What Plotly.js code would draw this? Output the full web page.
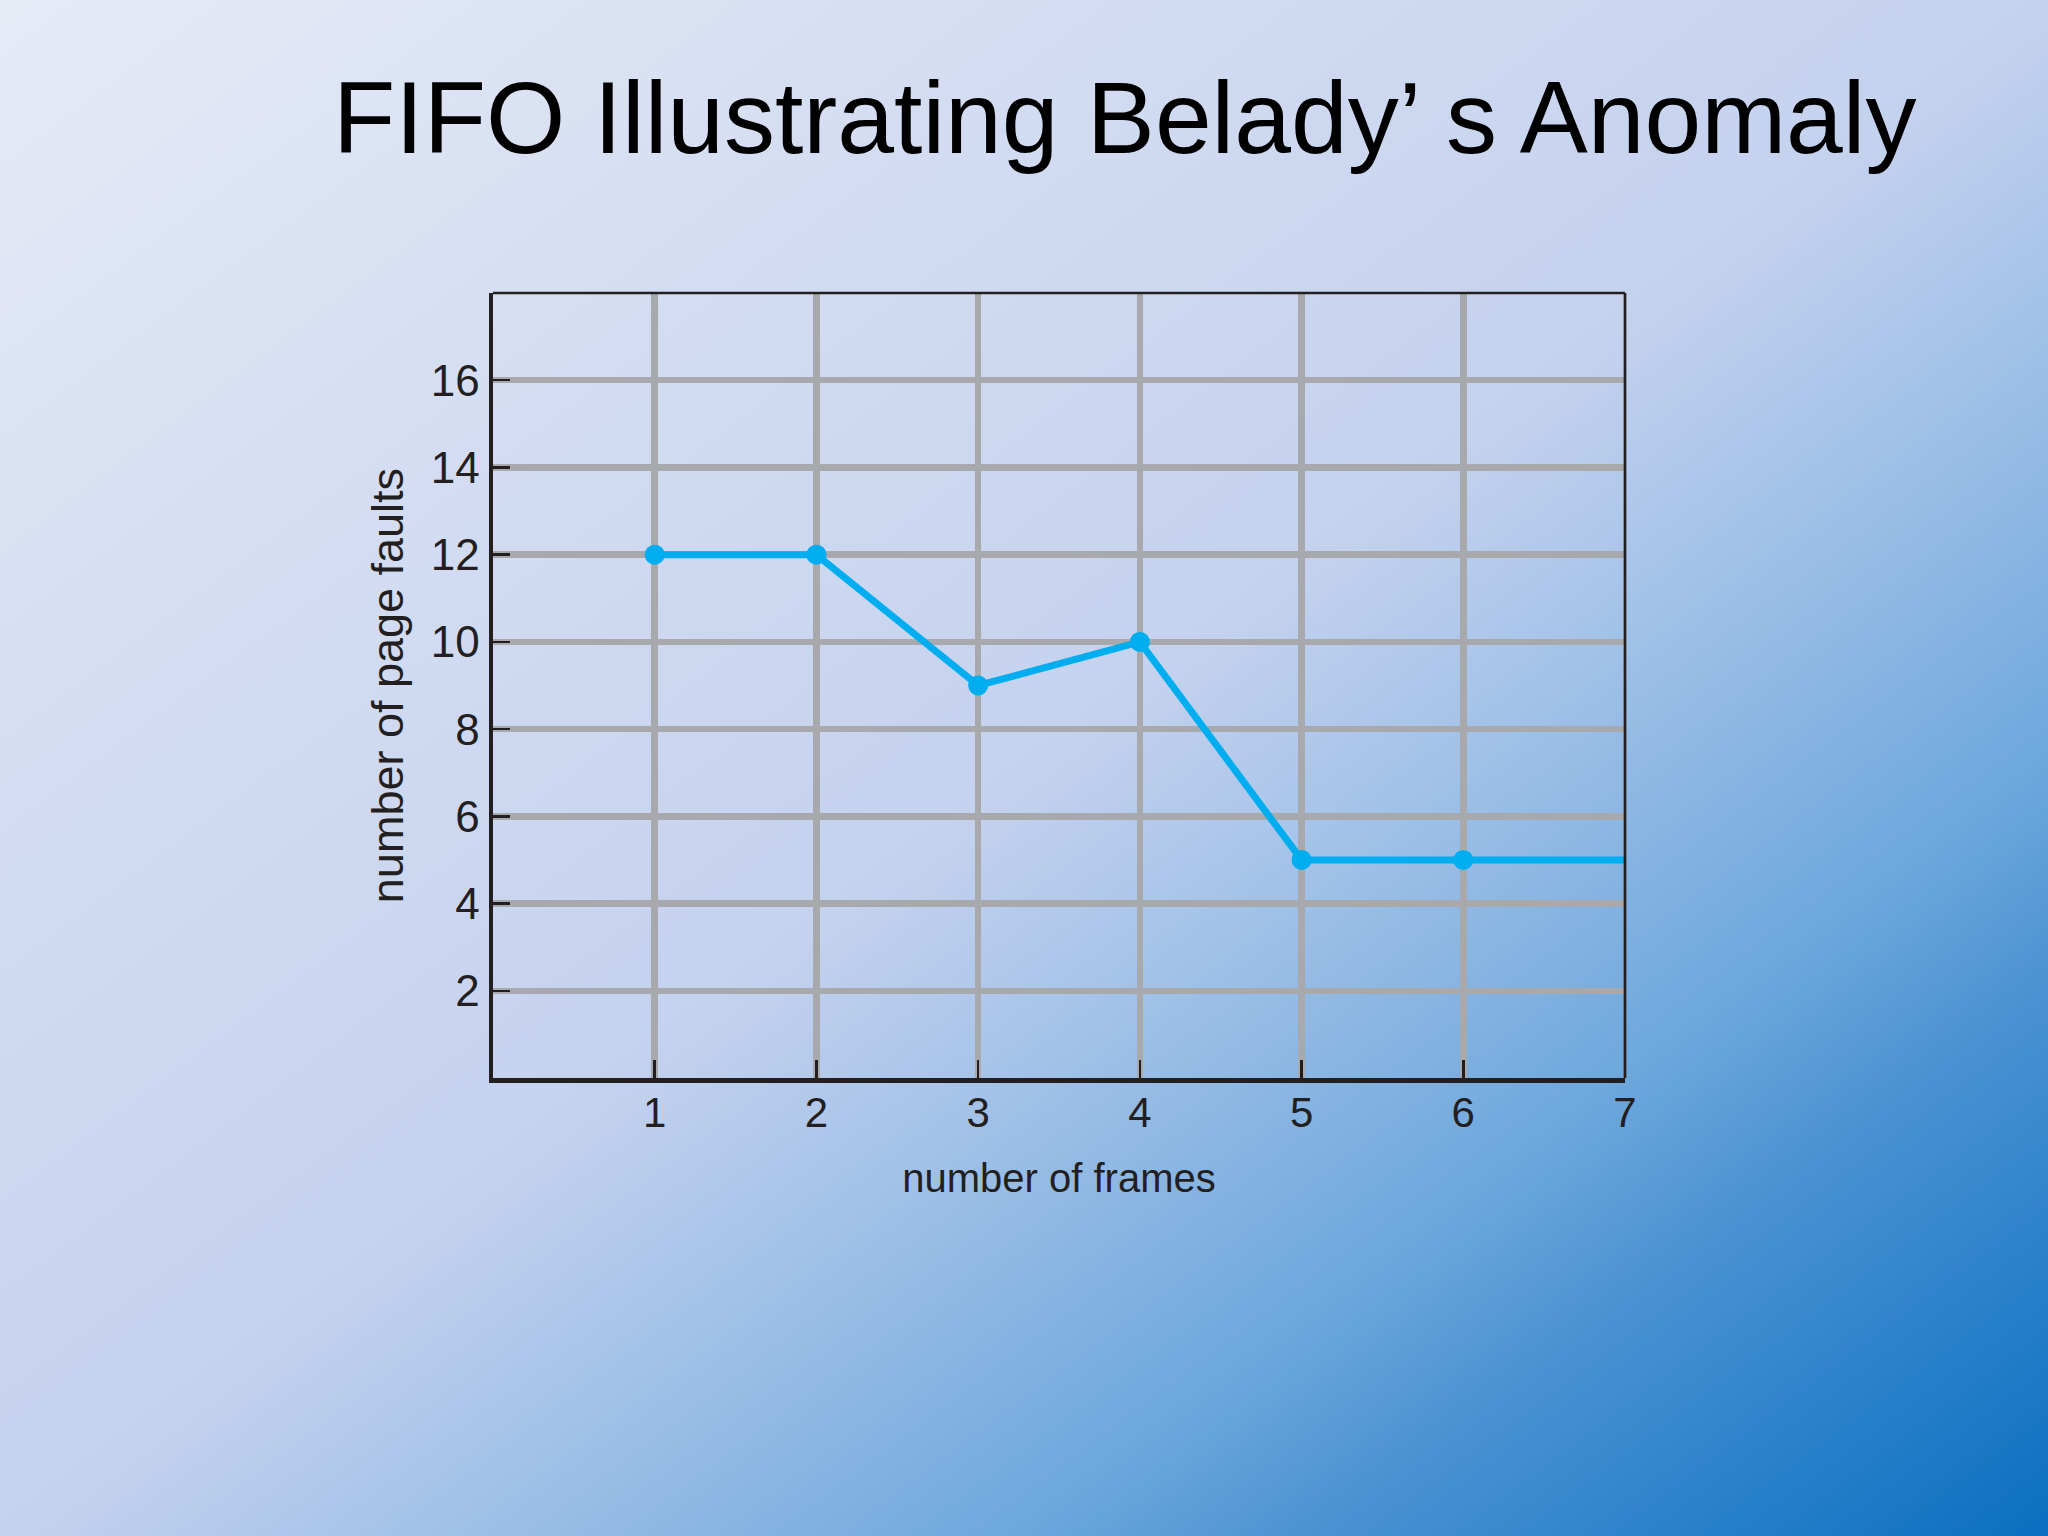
<!DOCTYPE html>
<html>
<head>
<meta charset="utf-8">
<script src="https://cdn.plot.ly/plotly-3.0.1.min.js"></script>
<style>
html, body { margin: 0; padding: 0; }
body {
  width: 2048px; height: 1536px; overflow: hidden;
  background: linear-gradient(to bottom right, #e6ebf6 0%, #d4ddf2 25%, #c5d2ee 50%, #a3c2e8 60%, #6ca7dc 75%, #4a92d2 82%, #0a6fc1 100%);
}
#chart { width: 2048px; height: 1536px; }
</style>
</head>
<body>
<div id="chart"></div>
<script>
// Data
const frames = [1, 2, 3, 4, 5, 6, 7];
const pageFaults = [12, 12, 9, 10, 5, 5, 5];
const markerFrames = [1, 2, 3, 4, 5, 6];
const markerFaults = [12, 12, 9, 10, 5, 5];
const xTicks = [1, 2, 3, 4, 5, 6, 7];
const yTicks = [2, 4, 6, 8, 10, 12, 14, 16];

const titleText = "FIFO Illustrating Belady\u2019 s Anomaly";
const xTitle = "number of frames";
const yTitle = "number of page faults";

const lineColor = "#00aeef";
const gridColor = "#a7a9ac";
const inkColor = "#231f20";

const traces = [
  {
    x: frames, y: pageFaults, type: "scatter", mode: "lines",
    line: { color: lineColor, width: 7 }, hoverinfo: "skip", showlegend: false
  },
  {
    x: markerFrames, y: markerFaults, type: "scatter", mode: "markers",
    marker: { color: lineColor, size: 20 }, showlegend: false
  }
];

const fam = "Liberation Sans, Arial, sans-serif";

const layout = {
  width: 2048, height: 1536,
  paper_bgcolor: "rgba(0,0,0,0)",
  plot_bgcolor: "rgba(0,0,0,0)",
  margin: { l: 493, r: 423, t: 293, b: 458, pad: 0 },
  title: {
    text: titleText,
    font: { family: fam, size: 102, color: "#000000" },
    x: 333 / 2048, xanchor: "left", xref: "container",
    y: 0.947, yanchor: "top", yref: "container"
  },
  xaxis: {
    range: [0, 7], tickmode: "array", tickvals: xTicks, ticktext: xTicks.map(String),
    showgrid: true, gridcolor: gridColor, gridwidth: 6.5,
    zeroline: false, showline: true, linecolor: inkColor, linewidth: 4.5,
    ticks: "inside", ticklen: 18, tickwidth: 2.5, tickcolor: inkColor,
    tickfont: { family: fam, size: 42, color: inkColor }, ticklabelstandoff: -6,
    title: { text: xTitle, font: { family: fam, size: 40, color: inkColor }, standoff: 30 },
    fixedrange: true
  },
  yaxis: {
    range: [0, 18], tickmode: "array", tickvals: yTicks, ticktext: yTicks.map(String),
    showgrid: true, gridcolor: gridColor, gridwidth: 6.5,
    zeroline: false, showline: true, linecolor: inkColor, linewidth: 4.5,
    ticks: "inside", ticklen: 17, tickwidth: 2.5, tickcolor: inkColor,
    tickfont: { family: fam, size: 44, color: inkColor }, ticklabelstandoff: 0,
    title: { text: yTitle, font: { family: fam, size: 45, color: inkColor }, standoff: 14 },
    fixedrange: true
  },
  shapes: [
    { type: "line", xref: "paper", yref: "paper", x0: 0, x1: 1, y0: 1, y1: 1,
      line: { color: inkColor, width: 2.7 } },
    { type: "line", xref: "paper", yref: "paper", x0: 1, x1: 1, y0: 0, y1: 1,
      line: { color: inkColor, width: 2.7 } }
  ]
};

Plotly.newPlot("chart", traces, layout, { displayModeBar: false, staticPlot: true });
</script>
</body>
</html>
